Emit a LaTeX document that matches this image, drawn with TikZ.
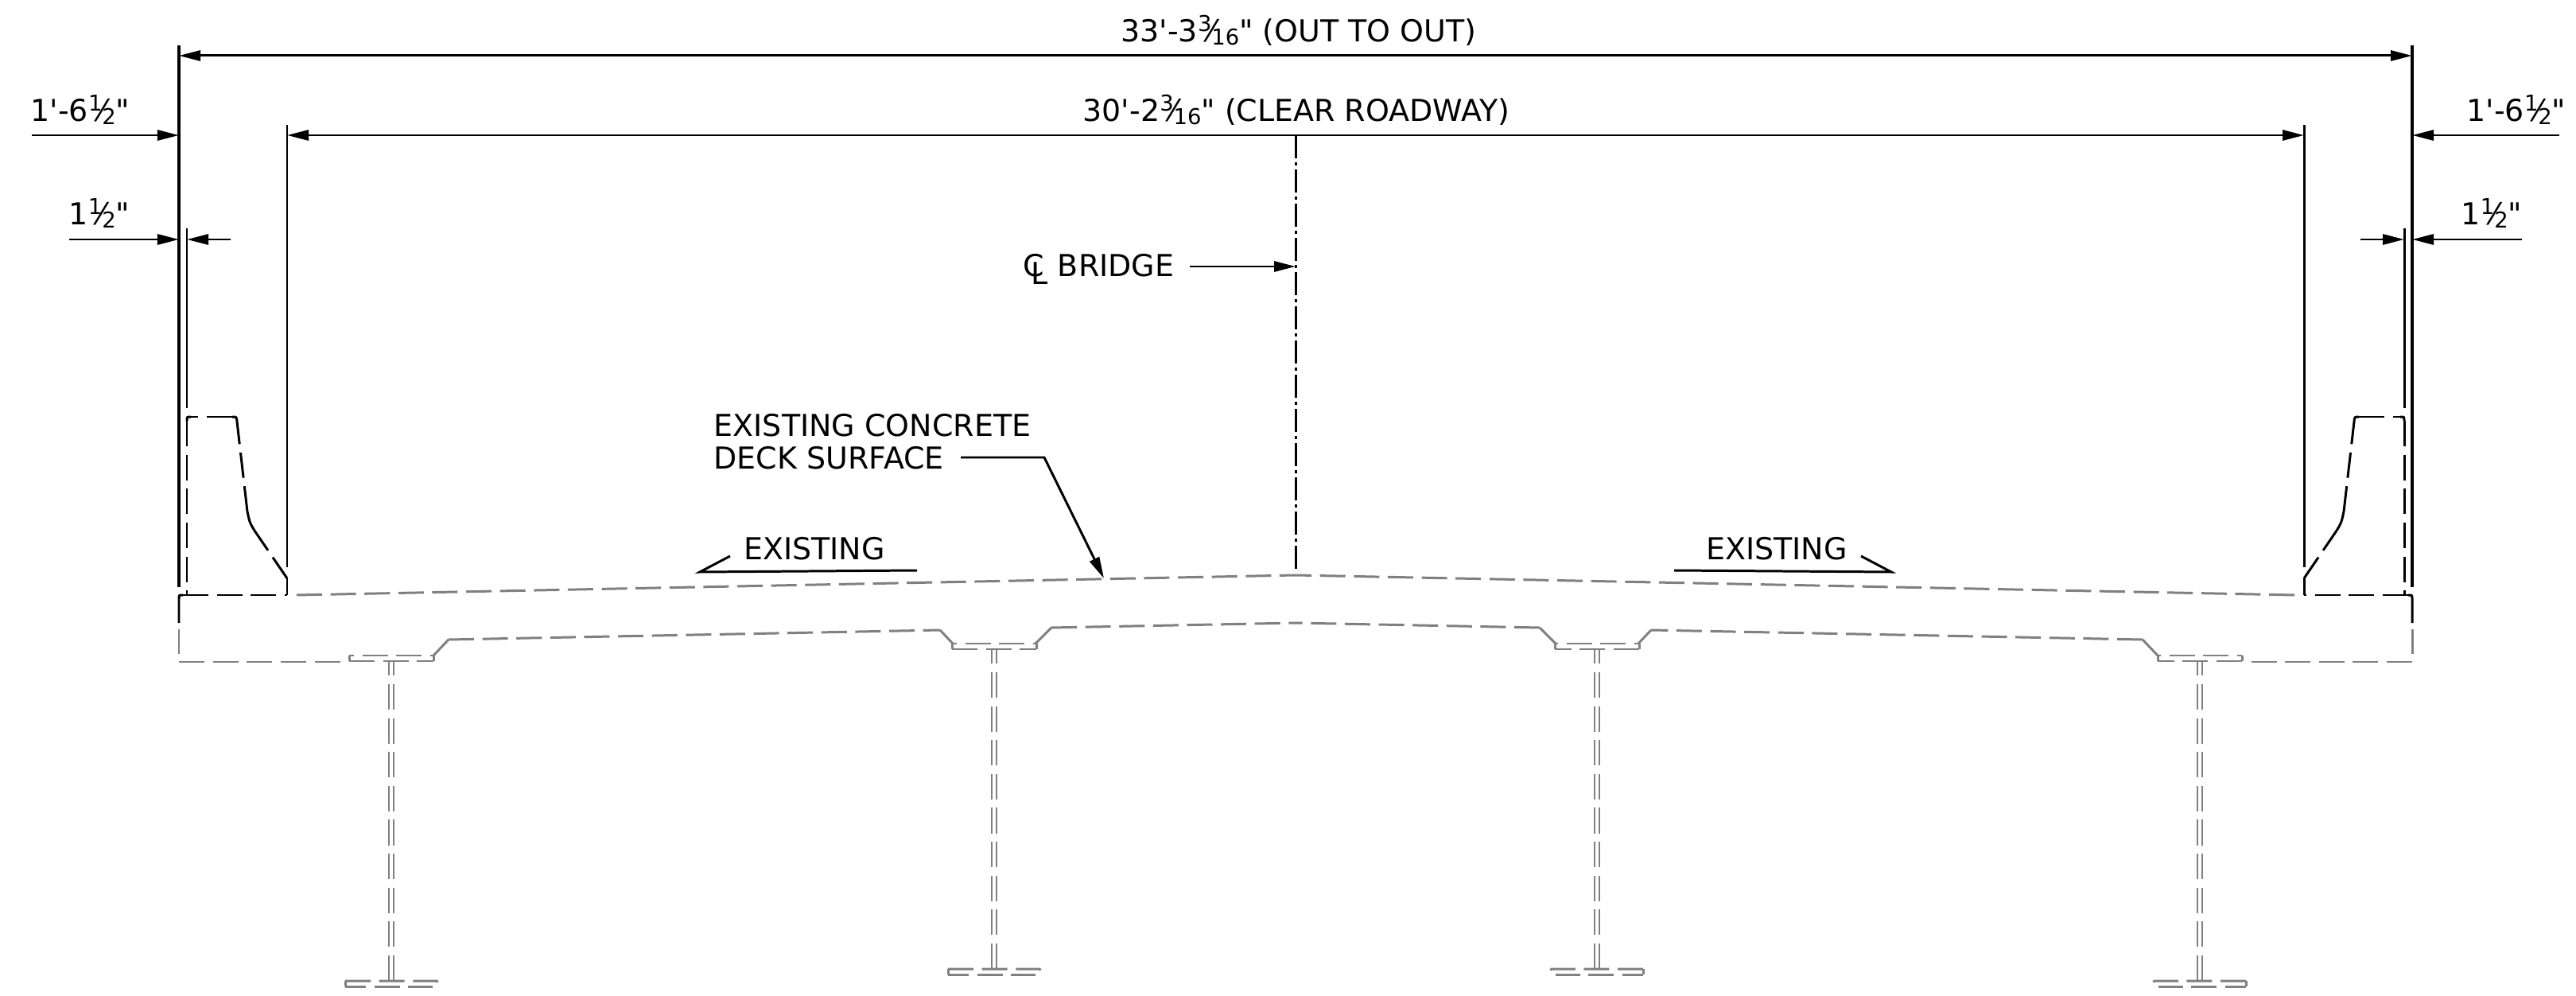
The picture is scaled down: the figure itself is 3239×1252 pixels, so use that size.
\documentclass[tikz,border=0pt]{standalone}
\usepackage{fontspec}
\newfontfamily\lblfont{DejaVu Sans}
\usepackage{tikz}
\usetikzlibrary{arrows.meta}
\newcommand{\clmark}{C\kern-.42em\raisebox{-.09cm}{L}}
\newcommand{\frc}[2]{\raisebox{.13cm}{\fontsize{7.8}{8}\selectfont #1}\kern-.09em⁄\kern-.08em\raisebox{-.04cm}{\fontsize{7.8}{8}\selectfont #2}}
\tikzset{
    lbl/.style={font=\lblfont\fontsize{10.8}{11.6}\selectfont, inner sep=0pt, align=left},
    dimline/.style={line width=.85pt, -{Triangle[length=.27cm,width=.13cm]}},
    extline/.style={line width=.85pt},
    heavy/.style={line width=.9pt},
    longdash/.style={dash pattern=on .32cm off .106cm},
    cutline/.style={line width=.85pt, longdash},
    steel/.style={gray, line width=.85pt},
    web/.style={gray, line width=.65pt, longdash},
    lefthalf/.style={},
    righthalf/.style={shift={(3258,0)},xscale=-1}
}
\begin{document}
\begin{tikzpicture}[x=.01cm,y=-.01cm]
    \useasboundingbox (0,0) rectangle (3239,1252);

    % Overall dimensions
    \coordinate (outerL) at (225,70);
    \coordinate (outerR) at (3033,70);
    \coordinate (clearL) at (361,170);
    \coordinate (clearR) at (2897,170);
    \draw[dimline] (1629,70) -- (outerL);
    \draw[dimline] (1629,70) -- (outerR);
    \draw[dimline] (1629,170) -- (clearL);
    \draw[dimline] (1629,170) -- (clearR);
    \node[lbl, anchor=base] (outlbl) at (1633,53) {33'-3\frc{3}{16}" (OUT TO OUT)};
    \node[lbl, anchor=base] (clearlbl) at (1630,153) {30'-2\frc{3}{16}" (CLEAR ROADWAY)};

    % Centerline
    \coordinate (cltop) at (1629,170);
    \coordinate (clbot) at (1629,715);
    \draw[extline, dash pattern=on .29cm off .05cm on .04cm off .05cm] (cltop) -- (clbot);
    \node[lbl, anchor=base east] (cllbl) at (1477,348) {\clmark\ BRIDGE};
    \coordinate (clpt) at (1629,335);
    \draw[dimline] (1496,335) -- (clpt);

    % Deck surface note
    \node[lbl, anchor=west] (decklbl) at (897,555) {EXISTING CONCRETE\\DECK SURFACE};
    \coordinate (deckelb) at (1313,575);
    \coordinate (deckpt) at (1388,727);
    \draw[dimline] (1208,575) -- (deckelb) -- (deckpt);

    \foreach \side/\lx in {lefthalf/101,righthalf/94} {
    \begin{scope}[\side]
        % Side dimensions
        \coordinate (facea) at (225,170);
        \coordinate (faceb) at (225,301);
        \coordinate (facec) at (235,301);
        \draw[dimline] (40,170) -- (facea);
        \draw[dimline] (87,301) -- (faceb);
        \draw[dimline] (290,301) -- (facec);
        \node[lbl, anchor=base] (sidelbl) at (\lx,153) {1'-6\frc{1}{2}"};
        \node[lbl, anchor=base] (curblbl) at (125,283) {1\frc{1}{2}"};

        % Extension lines
        \draw[heavy] (225,57) -- (225,738);
        \draw[extline] (235,287) -- (235,513);
        \draw[extline] (361,157) -- (361,713);

        % Barrier
        \draw[cutline] (230,748) -- (361,748);
        \draw[extline] (361,748) -- (361,727);
        \draw[cutline] (361,727) -- (320,667);
        \draw[extline] (320,667) .. controls (314,657) .. (311,643);
        \draw[cutline] (311,643) -- (298,530);
        \draw[extline] (298,530) .. controls (297.5,524) .. (292,524);
        \draw[cutline] (292,524) -- (240,524);
        \draw[extline] (240,524) .. controls (235,524) .. (235,529);
        \draw[cutline] (235,529) -- (235,748);
        \draw[extline] (225,783) -- (225,753) .. controls (225,748) .. (230,748);

        % Deck
        \draw[steel, longdash] (373,748) -- (1629,723);
        \draw[steel, longdash] (225,791) -- (225,822);
        \draw[steel, longdash] (225,832) -- (438,832);
        \draw[steel, longdash] (564,804) -- (1182,792);
        \draw[steel, longdash] (1322,789) -- (1629,783);
        \draw[steel] (545,824) -- (564,804);
        \draw[steel] (1182,792) -- (1198,809);
        \draw[steel] (1302,809) -- (1322,789);

        % Girders
        \foreach \gx/\gy/\by in {492/824/1233,1250/809/1218} {
            \draw[steel] (\gx-53,\gy) -- (\gx-53,\gy+7);
            \draw[steel] (\gx+53,\gy) -- (\gx+53,\gy+7);
            \draw[steel, longdash, dash phase=.26cm] (\gx-53,\gy) -- (\gx+53,\gy);
            \draw[steel, longdash] (\gx-53,\gy+7) -- (\gx+53,\gy+7);
            \draw[web] (\gx-3,\by) -- (\gx-3,\gy+7);
            \draw[web] (\gx+3,\by) -- (\gx+3,\gy+7);
            \draw[steel, longdash] (\gx-58,\by) -- (\gx+57,\by) -- (\gx+59,\by+2);
            \draw[steel] (\gx-58,\by) -- (\gx-58,\by+7);
            \draw[steel, longdash, dash phase=.06cm] (\gx-58,\by+7) -- (\gx+52,\by+7);
        }

        % Existing note
        \node[lbl, anchor=base] (exlbl) at (1024,703) {EXISTING};
        \coordinate (exelb) at (880,719);
        \draw[extline] (918,699) -- (exelb) -- (1153,717);
    \end{scope}
    }
\end{tikzpicture}
\end{document}
